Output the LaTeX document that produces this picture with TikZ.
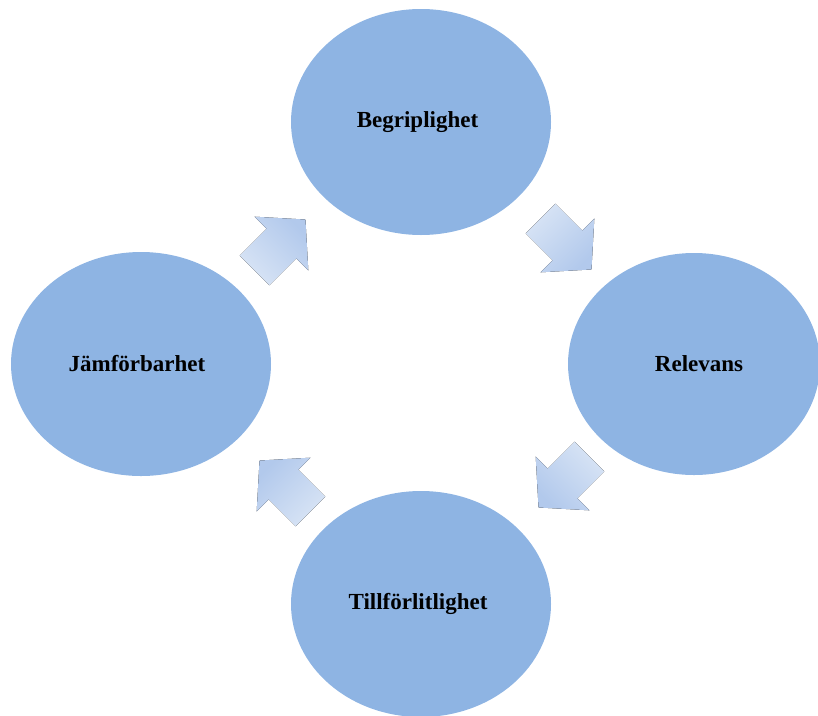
\documentclass[tikz,border=0pt]{standalone}
\usepackage{fontspec}
\setmainfont{Liberation Serif}
\usetikzlibrary{shapes.geometric}

\definecolor{bubblefill}{HTML}{8EB4E3}
\definecolor{arrowtip}{HTML}{B2C9EC}
\definecolor{arrowtail}{HTML}{D8E4F5}

\tikzset{
  bubble/.style={ellipse, fill=bubblefill, inner sep=0pt,
    minimum width=260pt, minimum height=226pt,
    font=\bfseries\fontsize{23}{26}\selectfont},
}

\begin{document}
\begin{tikzpicture}[x=1pt, y=-1pt]

    \useasboundingbox (0,0) rectangle (818,715);

    % bubbles
    \node [bubble] (begrip) at (421,122) {\raisebox{-3pt}{Begriplighet}\hspace*{7pt}};
    \node [bubble, minimum width=252pt, minimum height=222pt] (relev) at (694,364) {\hspace*{10pt}Relevans};
    \node [bubble] (tillf) at (421,604) {\raisebox{-3pt}{Tillförlitlighet}\hspace*{6pt}};
    \node [bubble, minimum height=224pt] (jamf) at (141,364) {Jämförbarhet\hspace*{8pt}};

    % arrows (x, y, direction)
    \foreach \ax/\ay/\dir in {274/251/45, 560/238/-45, 570/476/-135, 291/492/135}{
        \begin{scope}[shift={(\ax,\ay)}, rotate=\dir]
            \fill [top color=arrowtip, bottom color=arrowtail, shading angle=\dir-90]
                (-27.5,-21) -- (10.5,-21) -- (10.5,-38) -- (44.5,0)
                -- (10.5,38) -- (10.5,21) -- (-27.5,21) -- cycle;
        \end{scope}
    }

\end{tikzpicture}
\end{document}
